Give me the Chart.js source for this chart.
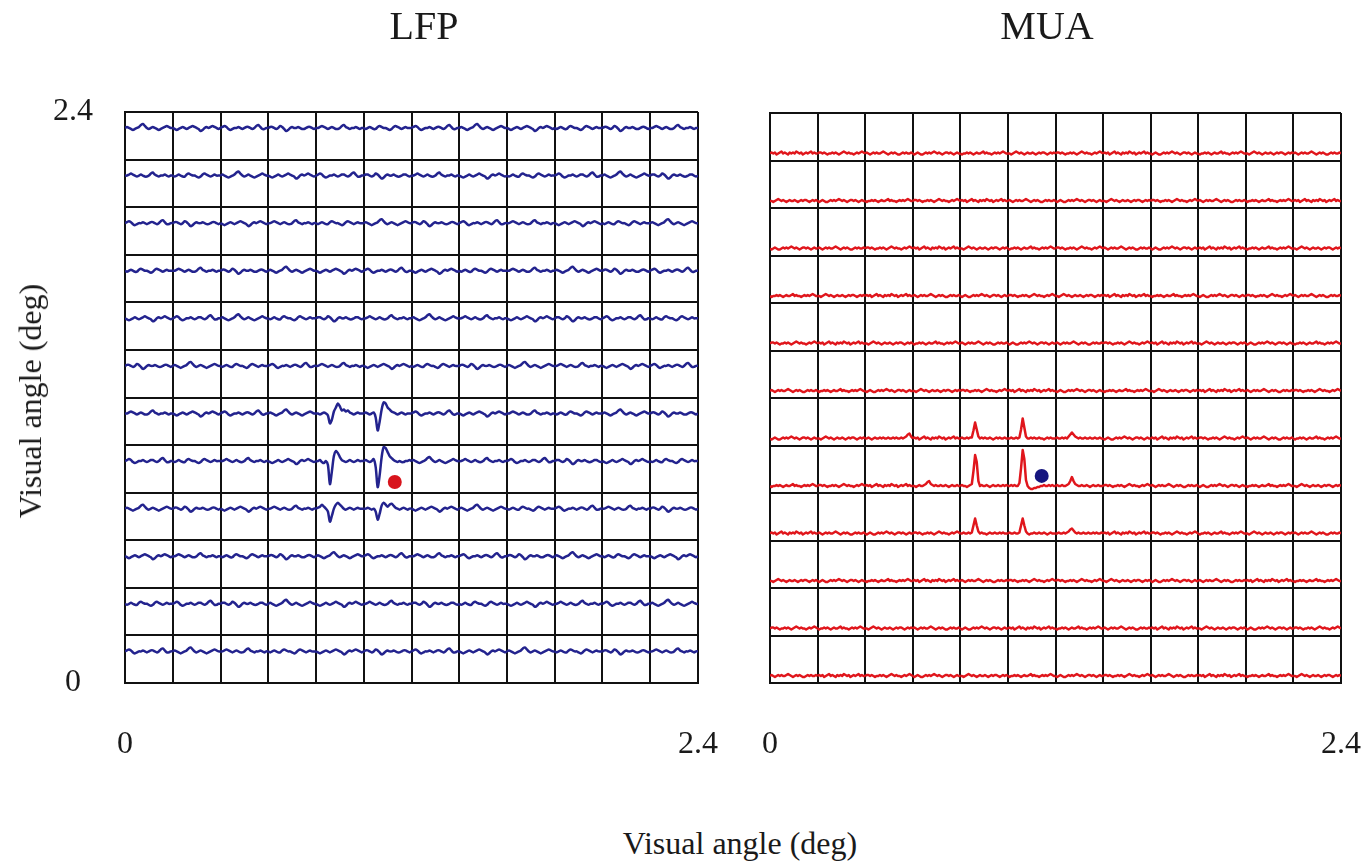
<!DOCTYPE html>
<html>
<head>
<meta charset="utf-8">
<script src="https://cdn.jsdelivr.net/npm/chart.js@4.4.1/dist/chart.umd.min.js"></script>
<style>
  body { margin: 0; background: #fff; width: 1363px; height: 866px; overflow: hidden; position: relative;
         font-family: "Liberation Serif", "Times New Roman", serif; color: #1a1a1a; }
  #lfpBox { position: absolute; left: 0; top: 0; width: 760px; height: 800px; }
  #muaBox { position: absolute; left: 720px; top: 0; width: 683px; height: 800px; }
  .txt { position: absolute; white-space: nowrap; line-height: 1; }
  .panelTitle { font-size: 40px; top: 6px; transform: translateX(-50%); }
  #xTitle { font-size: 32px; left: 740px; top: 827px; transform: translateX(-50%); }
  #yTitle { font-size: 32px; left: 30px; top: 401px; transform: translate(-50%, -50%) rotate(-90deg); }
</style>
</head>
<body>
<div id="muaBox"><canvas id="muaChart"></canvas></div>
<div id="lfpBox"><canvas id="lfpChart"></canvas></div>
<div class="txt panelTitle" style="left:424px">LFP</div>
<div class="txt panelTitle" style="left:1047px">MUA</div>
<div class="txt" id="xTitle">Visual angle (deg)</div>
<div class="txt" id="yTitle">Visual angle (deg)</div>
<script>
// axis ticks (deg)
const tickValues = [0, 2.4];
const tickLabels = ['0', '2.4'];

// trace amplitudes, roughly in screen pixels (positive = up)
// LFP background shapes, 25 samples per electrode
const lfpNoise = [
  [0, 1, 0, -1, -2, -1, 0, 1, 3, 4, 2, 0, -1, 0, 1, 0, -1, -2, -1, 0, 1, 2, 1, 0, 0],
  [0, -1, -2, -1, 0, 1, 0, -1, 0, 1, 2, 1, 0, -1, -3, -2, 0, 1, 0, 1, 2, 1, 0, -1, 0],
  [0, 0, 1, 2, 1, 0, -1, 0, 1, 0, -1, -1, 0, 2, 3, 1, 0, -1, 0, 0, 1, 0, -1, 0, 0],
  [0, 1, 2, 1, -1, -2, -1, 0, 0, 1, 0, -1, 0, 1, 1, 0, -1, 0, 2, 3, 1, -1, -1, 0, 0],
  [0, -1, 0, 1, 0, -1, -1, 1, 2, 1, 0, 0, -1, -2, -1, 1, 2, 1, 0, -1, 0, 1, 0, 0, 0],
  [0, 1, 1, 0, -1, 0, 2, 1, -1, -3, -2, 0, 1, 0, 0, 1, 0, -1, -1, 0, 1, 1, 0, -1, 0]
];
const lfpLayout = [
  '013524301452', '240135214305', '351240532140', '425013142053',
  '130452021534', '504321450213', '213045312405', '342150023514',
  '051234104325', '124503235041', '435012541230', '302415310452'
];
// evoked LFP responses (row from top, column from left)
const lfpR6C4 = [0, 0, -1, 0, 1, 0, -2, -10, -6, 2, 6, 10, 7, 3, 4, 2, 3, 1, 0, -1, 0, 1, 0, 0, 0];
const lfpR6C5 = [0, 1, 0, -1, 0, 1, -4, -17, -8, 4, 11, 10, 6, 4, 2, 1, 0, -1, 0, 1, 0, -1, 0, 0, 0];
const lfpR7C4 = [0, 0, 1, -1, -2, 0, -4, -23, -10, 5, 10, 8, 4, 1, 0, -1, 0, 1, 0, -1, 0, 1, 0, 0, 0];
const lfpR7C5 = [0, 1, 0, -1, 0, 2, -6, -26, -14, 4, 14, 13, 9, 5, 3, 1, 0, -1, 0, -1, -1, 0, 0, 1, 0];
const lfpR8C4 = [0, 1, 2, 4, 2, 0, -3, -13, -7, 0, 4, 6, 4, 2, 0, -1, 0, 1, 0, -1, 0, 1, 0, 0, 0];
const lfpR8C5 = [0, 0, 1, 0, -1, 0, -3, -11, -5, 3, 6, 4, 2, 4, 5, 3, 1, 0, -1, 0, 1, 0, -1, 0, 0];
const lfpResponses = [[6, 4, lfpR6C4], [6, 5, lfpR6C5], [7, 4, lfpR7C4], [7, 5, lfpR7C5], [8, 4, lfpR8C4], [8, 5, lfpR8C5]];

// MUA background shapes, 30 samples per electrode
const muaNoise = [
  [0, 1, 0, 1, -1, 0, 1, 2, 0, 1, 0, -1, 1, 0, 1, 0, 2, 1, 0, 1, -1, 0, 1, 0, 1, 2, 0, 1, 0, 0],
  [0, -1, 0, 1, 0, -1, -1, 0, 1, 0, 1, 0, 1, 2, 1, 0, 1, 0, -1, 0, 1, 1, 0, 1, 0, -1, 0, 1, 0, 0],
  [0, 1, 1, 0, 1, 0, -1, 0, 0, 1, 0, 1, 0, -1, 0, 1, 2, 1, 0, 1, 0, 0, -1, 0, 1, 0, 1, 2, 1, 0],
  [0, 0, -1, 0, 1, 2, 1, 0, 1, 0, -1, 0, 1, 0, 0, 1, 0, -1, 0, 1, 0, 1, 1, 0, -1, 0, 1, 0, 1, 0],
  [0, 1, 0, -1, 0, 1, 0, 1, 0, 0, 1, 2, 1, 0, -1, 0, 1, 0, 1, 0, -1, -1, 0, 1, 0, 1, 0, 0, 1, 0],
  [0, -1, 0, 0, 1, 0, 1, 0, -1, 0, 1, 0, 0, 1, 2, 0, 1, 0, 0, -1, 0, 1, 0, 1, 0, 1, 2, 1, 0, 0]
];
const muaLayout = [
  '024153201534', '315204132450', '142035241053', '530412305124',
  '203541420315', '451320153042', '134025310245', '520314024153',
  '041253102534', '315042231405', '253410540312', '402135124053'
];
const muaR6C2 = [0, 0, 1, 0, -1, 0, 1, 0, 0, 1, 0, 1, 0, 0, 1, 0, 0, 1, 0, 1, 0, 0, 1, 0, 1, 2, 4, 5, 2, 0];
const muaR6C4 = [0, 1, 0, 0, 1, 0, 1, 1, 8, 16, 9, 2, 0, 1, 0, 1, 0, 0, 1, 0, -1, 0, 1, 0, 1, 0, 0, 1, 0, 0];
const muaR6C5 = [0, 0, 1, 0, 0, 1, 0, 1, 9, 20, 11, 2, 0, 0, 1, 0, 1, 0, 0, 1, 0, 0, -1, 0, 1, 0, 1, 0, 0, 0];
const muaR6C6 = [0, 1, 0, 0, 1, 0, 1, 0, 2, 4, 6, 4, 2, 1, 0, 1, 0, 0, 1, 0, 0, 1, 0, 0, 1, 0, 0, 1, 0, 0];
const muaR7C3 = [0, 0, -1, 0, 1, 0, 0, 1, 2, 4, 5, 2, 1, 0, 1, 0, 0, 1, 0, 0, 1, 0, -1, 0, 1, 0, 0, 1, 0, 0];
const muaR7C4 = [0, 1, 0, 0, -1, 0, 1, 2, 15, 31, 24, 5, 0, 1, 0, 0, 1, 0, -1, 0, 1, 0, 0, 1, 0, 0, 1, 0, 1, 0];
const muaR7C5 = [0, 0, 1, 0, 1, 0, 0, 3, 18, 36, 27, 6, 0, -2, -3, -3, -2, -2, -1, -1, 0, 0, 1, 0, 0, 1, 0, 1, 0, 0];
const muaR7C6 = [0, 1, 0, 0, 1, 0, 0, 1, 2, 5, 9, 5, 2, 1, 0, 0, 1, 0, 0, 1, 0, -1, 0, 1, 0, 0, 1, 0, 0, 0];
const muaR8C4 = [0, 0, 1, 0, 0, 1, 0, 1, 8, 15, 8, 2, 0, 1, 0, 0, -1, 0, 1, 0, 0, 1, 0, 0, 1, 0, 1, 0, 0, 0];
const muaR8C5 = [0, 1, 0, 0, 1, 0, 0, 1, 8, 15, 8, 2, 0, -1, 0, 0, 1, 0, 0, 1, 0, 0, 1, 0, -1, 0, 1, 0, 0, 0];
const muaR8C6 = [0, 0, 1, 0, 0, 1, 0, 1, 2, 4, 5, 3, 1, 0, 1, 0, 0, 1, 0, 0, 1, 0, 0, 1, 0, 1, 0, 0, 1, 0];
const muaResponses = [[6, 2, muaR6C2], [6, 4, muaR6C4], [6, 5, muaR6C5], [6, 6, muaR6C6], [7, 3, muaR7C3],
  [7, 4, muaR7C4], [7, 5, muaR7C5], [7, 6, muaR7C6], [8, 4, muaR8C4], [8, 5, muaR8C5], [8, 6, muaR8C6]];

// receptive field centres (deg)
const lfpMarker = [{ x: 1.13, y: 0.845 }];
const muaMarker = [{ x: 1.142, y: 0.872 }];

const SPAN = 2.4, N = 12, CELL = SPAN / N;
const UNIT = SPAN / 571;   // amplitude unit -> deg

Chart.defaults.font.family = '"Liberation Serif", "Times New Roman", serif';
Chart.defaults.color = '#1a1a1a';

function traces(noise, layout, responses, level, color, smooth) {
  const sets = [];
  for (let r = 0; r < N; r++) {
    for (let c = 0; c < N; c++) {
      let vals = noise[+layout[r][c]];
      const hit = responses.find(d => d[0] === r && d[1] === c);
      if (hit) vals = hit[2];
      const base = SPAN - (r + 1) * CELL + level * CELL;
      const pts = vals.map((v, i) => ({ x: c * CELL + i / (vals.length - 1) * CELL, y: base + v * UNIT }));
      sets.push({ data: pts, borderColor: color, borderWidth: 2.5, pointRadius: 0, fill: false,
                  tension: smooth, borderJoinStyle: 'round' });
    }
  }
  return sets;
}

function tickText(v) {
  const k = tickValues.findIndex(t => Math.abs(t - v) < 1e-6);
  return k >= 0 ? tickLabels[k] : '';
}

function makeChart(id, sets, marker, markerColor, opts) {
  sets.push({ type: 'scatter', data: marker, order: -1, pointRadius: 7, pointBackgroundColor: markerColor,
              pointBorderWidth: 0, borderColor: markerColor });
  new Chart(document.getElementById(id), {
    type: 'line',
    data: { datasets: sets },
    options: {
      responsive: true, maintainAspectRatio: false, animation: false,
      layout: { padding: { top: opts.top, right: 23, left: 0, bottom: 17 } },
      plugins: { legend: { display: false }, tooltip: { enabled: false } },
      scales: {
        x: {
          type: 'linear', min: 0, max: SPAN,
          grid: { color: '#111', lineWidth: 2, drawTicks: false },
          border: { color: '#111', width: 2 },
          ticks: { stepSize: CELL, autoSkip: false, maxRotation: 0, minRotation: 0, padding: 42,
                   font: { size: 32 }, callback: tickText },
          afterFit: s => { s.height = 100; }
        },
        y: {
          type: 'linear', min: 0, max: SPAN,
          grid: { color: '#111', lineWidth: 2, drawTicks: false },
          border: { color: '#111', width: 2 },
          ticks: { display: opts.yTicks, stepSize: CELL, autoSkip: false, padding: 32, crossAlign: 'center',
                   font: { size: 32 }, callback: tickText },
          afterFit: s => { s.width = opts.yWidth; }
        }
      }
    }
  });
}

makeChart('lfpChart', traces(lfpNoise, lfpLayout, lfpResponses, 0.664, '#23238e', 0.3), lfpMarker, '#d8141c',
          { top: 112, yWidth: 125, yTicks: true });
makeChart('muaChart', traces(muaNoise, muaLayout, muaResponses, 0.147, '#e0161c', 0), muaMarker, '#15157f',
          { top: 113, yWidth: 49, yTicks: false });
</script>
</body>
</html>
